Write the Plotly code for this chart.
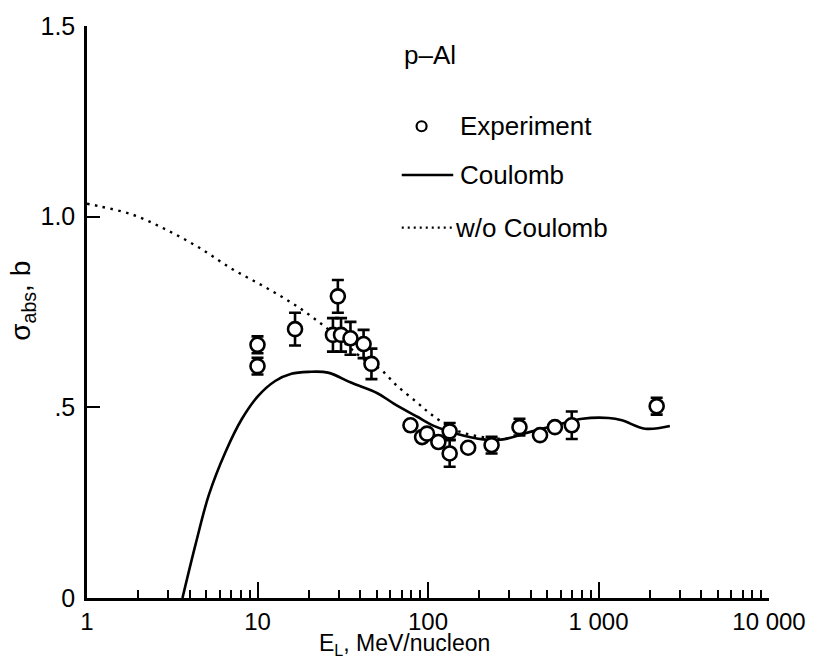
import plotly.graph_objects as go

# Experimental absorption cross sections, p + Al
exp_energy = [10, 10, 16.6, 27.7, 29.6, 30.9, 35.1, 41.9, 46.6, 78.9, 92.3, 98.7,
              115, 134, 134, 172, 236, 344, 454, 555, 697, 2194]
exp_sigma = [0.664, 0.608, 0.705, 0.690, 0.791, 0.690, 0.681, 0.666, 0.614, 0.453,
             0.422, 0.431, 0.409, 0.437, 0.379, 0.394, 0.401, 0.448, 0.427, 0.448,
             0.453, 0.503]
exp_error = [0.022, 0.022, 0.043, 0.044, 0.043, 0.044, 0.043, 0.037, 0.040, 0.0,
             0.0, 0.0, 0.0, 0.022, 0.035, 0.0, 0.022, 0.022, 0.0, 0.0,
             0.036, 0.022]

# Calculation including Coulomb interaction
coul_energy = [3.63, 4.34, 5.19, 6.49, 8.11, 10.1, 12.7, 15.8, 20, 25.9, 35.3, 50.5,
               63, 86, 110, 147, 211, 275, 393, 562, 804, 1148, 1373, 1876, 2622]
coul_sigma = [0.0, 0.142, 0.271, 0.383, 0.470, 0.530, 0.569, 0.588, 0.593, 0.591,
              0.565, 0.537, 0.510, 0.476, 0.450, 0.431, 0.416, 0.416, 0.435, 0.453,
              0.470, 0.472, 0.466, 0.444, 0.451]

# Calculation without Coulomb interaction
nocoul_energy = [1, 1.19, 1.86, 2.91, 4.54, 7.09, 11.1, 17.3, 27, 42.3, 52.8, 66,
                 85, 100, 120, 150, 195, 250, 300]
nocoul_sigma = [1.034, 1.027, 1.005, 0.966, 0.919, 0.863, 0.815, 0.763, 0.699, 0.625,
                0.599, 0.556, 0.515, 0.488, 0.462, 0.438, 0.424, 0.418, 0.418]

x_tick_vals = [1, 10, 100, 1000, 10000]
x_tick_text = ["1", "10", "100", "1 000", "10 000"]
x_minor_vals = [m * d for d in (1, 10, 100, 1000) for m in range(2, 10)]
y_tick_vals = [0, 0.5, 1.0, 1.5]
y_tick_text = ["0", ".5", "1.0", "1.5"]

FONT = "Liberation Sans, Arial, Helvetica, sans-serif"
INK = "black"
TXT = 26

fig = go.Figure()

fig.add_trace(go.Scatter(
    x=nocoul_energy, y=nocoul_sigma, mode="lines", line_shape="spline",
    line=dict(color=INK, width=2.4, dash="2.5px,5.5px"), showlegend=False))

fig.add_trace(go.Scatter(
    x=coul_energy, y=coul_sigma, mode="lines", line_shape="spline",
    line=dict(color=INK, width=2.6), showlegend=False))

fig.add_trace(go.Scatter(
    x=exp_energy, y=exp_sigma, mode="markers",
    marker=dict(symbol="circle", size=14, color="white",
                line=dict(color=INK, width=2.6)),
    error_y=dict(type="data", array=exp_error, visible=True,
                 color=INK, thickness=2.6, width=6),
    showlegend=False))

fig.update_xaxes(
    type="log", range=[0, 4],
    showline=True, linecolor=INK, linewidth=2.5, mirror=False,
    showgrid=False, zeroline=False,
    tickmode="array", tickvals=x_tick_vals, ticktext=x_tick_text,
    ticks="inside", ticklen=16, tickwidth=2, tickcolor=INK,
    ticklabelstandoff=0,
    minor=dict(tickmode="array", tickvals=x_minor_vals, ticks="inside",
               ticklen=8, tickwidth=2, tickcolor=INK, showgrid=False),
    tickfont=dict(family=FONT, size=24, color=INK),
)
fig.update_yaxes(
    range=[0, 1.5],
    showline=True, linecolor=INK, linewidth=2.5, mirror=False,
    showgrid=False, zeroline=False,
    tickmode="array", tickvals=y_tick_vals, ticktext=y_tick_text,
    ticks="inside", ticklen=13, tickwidth=2, tickcolor=INK,
    ticklabelstandoff=4,
    tickfont=dict(family=FONT, size=25, color=INK),
)

# Axis titles
fig.add_annotation(xref="paper", yref="paper", x=0.465, y=-0.052,
                   text="E<sub>L</sub>, MeV/nucleon", showarrow=False,
                   xanchor="center", yanchor="top",
                   font=dict(family=FONT, size=23, color=INK))
fig.add_annotation(xref="paper", yref="paper", x=-0.095, y=0.52,
                   text="σ<sub>abs</sub>, b", showarrow=False, textangle=-90,
                   xanchor="center", yanchor="middle",
                   font=dict(family=FONT, size=28, color=INK))

# Key
fig.add_annotation(xref="paper", yref="paper", x=0.462, y=0.950,
                   text="p–Al", showarrow=False, xanchor="left", yanchor="middle",
                   font=dict(family=FONT, size=TXT, color=INK))
fig.add_shape(type="circle", xref="paper", yref="paper",
              xsizemode="pixel", ysizemode="pixel",
              xanchor=0.4906, yanchor=0.8247, x0=-5, x1=5, y0=-5, y1=5,
              line=dict(color=INK, width=2.2), fillcolor="white")
fig.add_annotation(xref="paper", yref="paper", x=0.5437, y=0.8247,
                   text="Experiment", showarrow=False, xanchor="left",
                   yanchor="middle", font=dict(family=FONT, size=TXT, color=INK))
fig.add_shape(type="line", xref="paper", yref="paper",
              x0=0.4615, x1=0.537, y0=0.7396, y1=0.7396,
              line=dict(color=INK, width=2.6))
fig.add_annotation(xref="paper", yref="paper", x=0.5437, y=0.7396,
                   text="Coulomb", showarrow=False, xanchor="left",
                   yanchor="middle", font=dict(family=FONT, size=TXT, color=INK))
fig.add_shape(type="line", xref="paper", yref="paper",
              x0=0.4615, x1=0.535, y0=0.6476, y1=0.6476,
              line=dict(color=INK, width=2.2, dash="2px,4px"))
fig.add_annotation(xref="paper", yref="paper", x=0.5365, y=0.6476,
                   text="w/o Coulomb", showarrow=False, xanchor="left",
                   yanchor="middle", font=dict(family=FONT, size=TXT, color=INK))

fig.update_layout(
    width=818, height=658,
    margin=dict(l=87, r=42, t=22, b=60),
    paper_bgcolor="white", plot_bgcolor="white",
    font=dict(family=FONT, color=INK),
    showlegend=False,
)

fig.write_html("out.html")
